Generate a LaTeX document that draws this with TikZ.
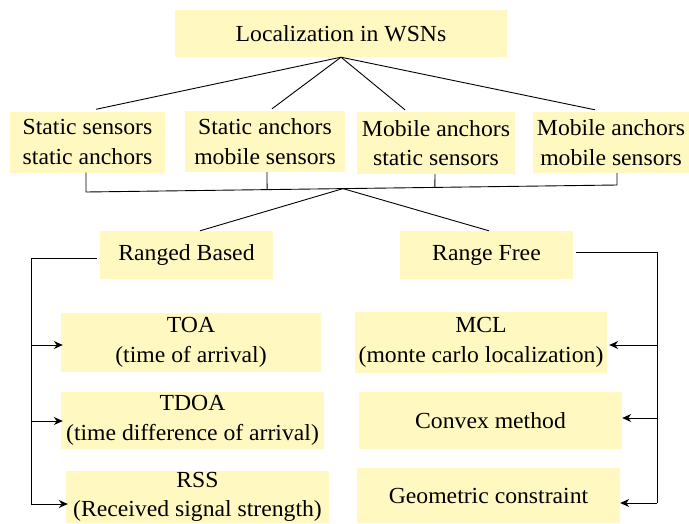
\documentclass[tikz,border=0pt]{standalone}
\usepackage{fontspec}
\setmainfont[FakeStretch=1.03]{Liberation Serif}
\usetikzlibrary{arrows.meta,calc}
\definecolor{boxfill}{RGB}{255,248,192}
\begin{document}
\begin{tikzpicture}[x=1pt,y=-1pt,
  box/.style 2 args={fill=boxfill, inner sep=0pt, align=center,
    minimum width=#1pt, minimum height=#2pt,
    font=\fontsize{23}{29.5}\selectfont},
  link/.style={line width=0.9pt, black},
  feed/.style={link, -{Stealth[length=9pt,width=8pt]}}]
\useasboundingbox (0,0) rectangle (689,523);

% root
\node[box={332}{47}] (top) at (341,33.5) {Localization in WSNs};

% scenarios
\node[box={155}{61}] (b1) at (87.5,142)  {Static sensors\\static anchors};
\node[box={160}{61}] (b2) at (265,141.5) {Static anchors\\mobile sensors};
\node[box={158}{62}] (b3) at (436,143)   {Mobile anchors\\static sensors};
\node[box={156}{61}] (b4) at (611,142.5) {Mobile anchors\\mobile sensors};

% families
\node[box={173}{48}] (rb) at (186.5,255) {Ranged Based};
\node[box={173}{48}] (rf) at (486.5,255) {Range Free};

% range based techniques
\node[box={260}{59}] (toa)  at (191,342.5)   {TOA\\(time of arrival)};
\node[box={263}{57}] (tdoa) at (192.5,420.5) {TDOA\\(time difference of arrival)};
\node[box={263}{52}] (rss)  at (197.5,497)   {RSS\\(Received signal strength)};

% range free techniques
\node[box={252}{61}] (mcl)  at (481,342.5)   {MCL\\(monte carlo localization)};
\node[box={263}{57}] (cvx)  at (490.5,420.5) {Convex method};
\node[box={263}{55}] (geo)  at (488.5,495.5) {Geometric constraint};

% root to scenarios
\draw[link] (top.south) -- ([xshift=8.5pt,yshift=2pt]b1.north);
\draw[link] (top.south) -- ([xshift=7pt,yshift=2pt]b2.north);
\draw[link] (top.south) -- ([xshift=-31pt,yshift=2pt]b3.north);
\draw[link] (top.south) -- ([xshift=-16pt,yshift=2pt]b4.north);

% collecting bus under the scenarios
\coordinate (busL) at (86,192);
\coordinate (busR) at (617,185);
\coordinate (hub)  at ($(busL)!0.484!(busR)$);
\draw[link] ([xshift=-1.5pt]b1.south) -- (busL) -- (busR) -- ([xshift=6pt]b4.south);
\draw[link] ([xshift=2pt]b2.south) -- ($(busL)!0.341!(busR)$);
\draw[link] ([xshift=-1pt]b3.south) -- ($(busL)!0.657!(busR)$);
\draw[link] (hub) -- ([xshift=13.5pt]rb.north);
\draw[link] (hub) -- ([xshift=2.5pt]rf.north);

% left rail
\coordinate (ltop) at (31,258);
\coordinate (l1)   at (31,345);
\coordinate (l2)   at (31,421);
\coordinate (lbot) at (31,504);
\draw[link] ([xshift=-3pt,yshift=-3pt]rb.west) -- (ltop) -- (lbot);
\draw[feed] (l1) -- ([xshift=2pt]l1 -| toa.west);
\draw[feed] (l2) -- ([xshift=2pt]l2 -| tdoa.west);
\draw[feed] (lbot) -- ([xshift=2pt]lbot -| rss.west);

% right rail
\coordinate (rtop) at (657,252);
\coordinate (r1)   at (657,345);
\coordinate (r2)   at (657,418);
\coordinate (rbot) at (657,503);
\draw[link] ([xshift=3pt,yshift=3pt]rf.east) -- (rtop) -- (rbot);
\draw[feed] (r1) -- ([xshift=2pt]r1 -| mcl.east);
\draw[feed] (r2) -- (r2 -| cvx.east);
\draw[feed] (rbot) -- (rbot -| geo.east);
\end{tikzpicture}
\end{document}
